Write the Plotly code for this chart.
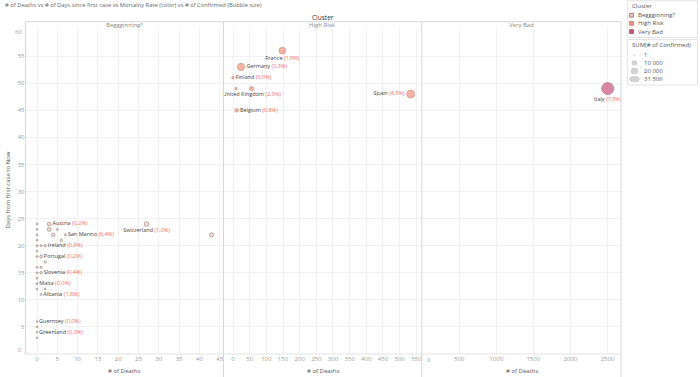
import plotly.graph_objects as go

W, H = 700, 377
def px(x): return x / W
def py(y): return 1 - y / H

# ---------------- data ----------------
# Cluster "Beggginning?"
beg_names = ["Austria", "San Marino", "Ireland", "Portugal", "Slovenia", "Malta", "Albania",
             "Guernsey", "Greenland", "Switzerland",
             "", "", "", "", "", "", "", "", "", "", "", "", "", "", "", "", "", "", "", "", "", ""]
beg_deaths = [3, 7, 2, 1, 1, 0, 1, 0, 0, 27,
              3, 4, 5, 6, 43, 0, 0, 0, 0, 0, 0, 0, 0, 0, 0, 0, 0, 0, 1, 1, 2, 2]
beg_days = [24, 22, 20, 18, 15, 13, 11, 6, 4, 24,
            23, 22, 23, 21, 22, 24, 23, 22, 21, 20, 19, 18, 16, 15, 14, 12, 5, 3, 20, 16, 17, 12]
beg_conf = [1332, 109, 223, 448, 275, 38, 55, 1, 1, 2700,
            1463, 1024, 60, 180, 1708, 30, 20, 40, 15, 25, 10, 30, 20, 12, 15, 10, 5, 3, 60, 80, 90, 40]
beg_rate = ["0,2%", "6,4%", "0,9%", "0,2%", "0,4%", "0,0%", "1,8%", "0,0%", "0,0%", "1,0%"] + [""] * 22
beg_pos = ["middle right"] * 9 + ["bottom center"] + ["middle right"] * 22

# Cluster "High Risk"
hr_names = ["France", "Germany", "Finland", "United Kingdom", "", "Belgium", "Spain"]
hr_deaths = [148, 24, 0, 56, 9, 11, 533]
hr_days = [56, 53, 51, 49, 49, 45, 48]
hr_conf = [7652, 9257, 321, 1960, 200, 1243, 11748]
hr_rate = ["1,9%", "0,3%", "0,0%", "2,9%", "", "0,8%", "4,5%"]
hr_pos = ["bottom center", "middle right", "middle right", "bottom center", "middle right",
          "middle right", "middle left"]

# Cluster "Very Bad"
vb_names = ["Italy"]
vb_deaths = [2503]
vb_days = [49]
vb_conf = [31506]
vb_rate = ["7,9%"]
vb_pos = ["bottom center"]

clusters = ["Beggginning?", "High Risk", "Very Bad"]
size_legend_vals = [1, 10000, 20000, 31506]
size_legend_txt = ["1", "10 000", "20 000", "31 506"]

x1_ticks = list(range(0, 50, 5))
x2_ticks = list(range(0, 600, 50))
x3_ticks = list(range(500, 3000, 500))
y_ticks = list(range(5, 60, 5))

# ---------------- styling ----------------
FONT = "Open Sans"
fills = ["#f6cdc6", "#f3937f", "#c8587a"]
lines = ["#6f5855", "#b86a5a", "#8c3552"]
PCT = "#ee6a62"
MAXC = max(vb_conf + hr_conf + beg_conf)

def dsize(c):
    return 1.6 + 10.4 * (c / MAXC) ** 0.5

def labels(names, rates):
    out = []
    for n, r in zip(names, rates):
        out.append(f"{n} <span style='color:{PCT}'>({r})</span>" if n else "")
    return out

fig = go.Figure()
sets = [
    (beg_names, beg_deaths, beg_days, beg_conf, beg_rate, beg_pos, "x", 0),
    (hr_names, hr_deaths, hr_days, hr_conf, hr_rate, hr_pos, "x2", 1),
    (vb_names, vb_deaths, vb_days, vb_conf, vb_rate, vb_pos, "x3", 2),
]
for names, d, dy, c, r, pos, xa, ci in sets:
    fig.add_trace(go.Scatter(
        x=d, y=dy, mode="markers+text", xaxis=xa, yaxis="y",
        text=labels(names, r), textposition=pos,
        textfont=dict(family=FONT, size=5.5, color="#444"),
        marker=dict(size=[dsize(v) for v in c], color=fills[ci],
                    line=dict(color=lines[ci], width=0.7)),
        showlegend=False, hoverinfo="skip", cliponaxis=False,
    ))

# pane geometry (pixels)
P1 = (25.5, 223.4); P2 = (223.6, 421.6); P3 = (422.0, 621.0)
TOP, BOT = 29.0, 354.0
HDR = 21.7

grid = "#f1f1f1"
tickf = dict(family=FONT, size=6, color="#9a9a9a")
common_x = dict(showgrid=True, gridcolor=grid, gridwidth=1, zeroline=False,
                showline=False, ticks="", tickfont=tickf, anchor="y", fixedrange=True)

fig.update_layout(
    width=W, height=H, margin=dict(l=0, r=0, t=0, b=0),
    paper_bgcolor="white", plot_bgcolor="white",
    xaxis=dict(domain=[px(P1[0]), px(P1[1])], range=[(P1[0]-37)/4.06, (P1[1]-37)/4.06],
               tickmode="array", tickvals=x1_ticks, **common_x),
    xaxis2=dict(domain=[px(P2[0]), px(P2[1])], range=[(P2[0]-233)/0.3333, (P2[1]-233)/0.3333],
                tickmode="array", tickvals=x2_ticks, **common_x),
    xaxis3=dict(domain=[px(P3[0]), px(P3[1])], range=[0, (P3[1]-P3[0])/0.0742],
                tickmode="array", tickvals=x3_ticks, **common_x),
    yaxis=dict(domain=[py(BOT), py(TOP)], range=[0, 60], tickmode="array", tickvals=y_ticks,
               showgrid=True, gridcolor=grid, zeroline=False, showline=False, ticks="",
               tickfont=tickf, anchor="x", fixedrange=True),
    font=dict(family=FONT),
)

shapes = []
sep = "#d6d6d6"
def vline(x, y0, y1, color=sep, w=1):
    shapes.append(dict(type="line", xref="paper", yref="paper", x0=px(x), x1=px(x),
                       y0=py(y0), y1=py(y1), line=dict(color=color, width=w)))
def hline(y, x0, x1, color=sep, w=1):
    shapes.append(dict(type="line", xref="paper", yref="paper", x0=px(x0), x1=px(x1),
                       y0=py(y), y1=py(y), line=dict(color=color, width=w)))

hline(HDR, P1[0], P3[1])
hline(BOT, P1[0], P3[1], color="#e2e2e2")
vline(P1[0], HDR, BOT)
vline(P1[1] + 0.1, HDR, H)
vline(P2[1] + 0.2, HDR, H)
vline(P3[1], HDR, H)

# legend boxes
box = "#e3e3e3"
shapes.append(dict(type="rect", xref="paper", yref="paper", x0=px(627.3), x1=px(697.5),
                   y0=py(37.5), y1=py(0.8), line=dict(color=box, width=1)))
shapes.append(dict(type="rect", xref="paper", yref="paper", x0=px(627.3), x1=px(697.5),
                   y0=py(85), y1=py(39.5), line=dict(color=box, width=1)))
leg_y = [15.2, 23.4, 31.6]
for i, yy in enumerate(leg_y):
    shapes.append(dict(type="rect", xref="paper", yref="paper", x0=px(629.6), x1=px(633.4),
                       y0=py(yy + 1.9), y1=py(yy - 1.9), fillcolor=fills[i],
                       line=dict(color=lines[i], width=0.7)))
size_y = [55.3, 62.9, 71.0, 79.2]
size_w = [0.9, 5.0, 6.6, 9.6]
size_h = [0.9, 4.4, 5.6, 5.2]
for yy, w_, h_ in zip(size_y, size_w, size_h):
    shapes.append(dict(type="circle", xref="paper", yref="paper",
                       x0=px(634.5 - w_/2), x1=px(634.5 + w_/2),
                       y0=py(yy + h_/2), y1=py(yy - h_/2),
                       fillcolor="#d4d4d4", line=dict(color="#c2c2c2", width=0.7)))
fig.update_layout(shapes=shapes)

ann = []
def text(x, y, s, size=6, color="#555", xanchor="center", angle=0, yanchor="middle"):
    ann.append(dict(xref="paper", yref="paper", x=px(x), y=py(y), text=s, showarrow=False,
                    xanchor=xanchor, yanchor=yanchor, textangle=angle,
                    font=dict(family=FONT, size=size, color=color)))

text(2.5, 5.5, "# of Deaths vs # of Days since first case vs Mortality Rate (color) vs # of Confirmed (Bubble size)",
     size=5.8, color="#666", xanchor="left")
text(323, 17, "Cluster", size=6.5, color="#333")
text((P1[0]+P1[1])/2, 25.4, clusters[0], size=6, color="#888")
text((P2[0]+P2[1])/2, 25.4, clusters[1], size=6, color="#888")
text((P3[0]+P3[1])/2, 25.4, clusters[2], size=6, color="#888")
for cx in [(P1[0]+P1[1])/2, (P2[0]+P2[1])/2, (P3[0]+P3[1])/2]:
    text(cx, 370.5, "# of Deaths", size=6, color="#555")
text(7.5, 190, "Days from first case to Now", size=6, color="#555", angle=-90)
# end tick labels that Tableau nudges inside the pane
text(23.5, 349.5, "0", size=6, color="#9a9a9a", xanchor="right")
text(23.5, 32.3, "60", size=6, color="#9a9a9a", xanchor="right")
text(424.5, 360.2, "0", size=6, color="#9a9a9a", xanchor="left")
# legend texts
text(629.5, 6.3, "Cluster", size=6, color="#555", xanchor="left")
for yy, s in zip(leg_y, clusters):
    text(635.5, yy, s, size=6, color="#555", xanchor="left")
text(629.5, 45.2, "SUM(# of Confirmed)", size=6, color="#555", xanchor="left")
for yy, s in zip(size_y, size_legend_txt):
    if s == "1":
        text(645.5, yy, s, size=6, color="#555", xanchor="center")
    else:
        text(641.5, yy, s, size=6, color="#555", xanchor="left")
fig.update_layout(annotations=ann)

fig.write_html("out.html", config={"displayModeBar": False},
               post_script="document.body.style.margin='0';document.body.style.overflow='hidden';")
